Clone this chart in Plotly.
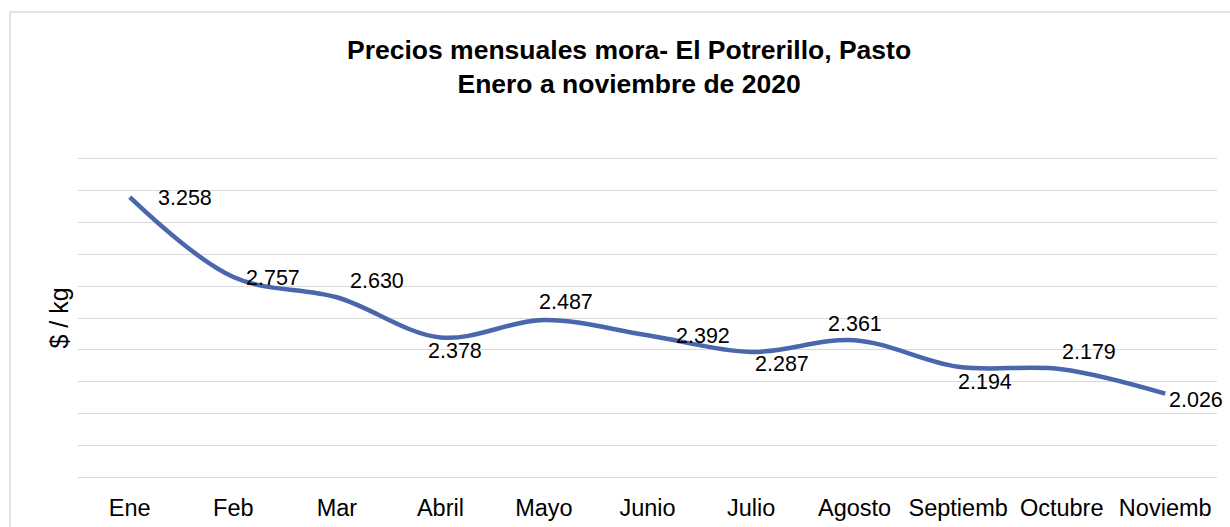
import plotly.graph_objects as go

# monthly prices (thousand $ / kg)
months = ['Ene', 'Feb', 'Mar', 'Abril', 'Mayo', 'Junio', 'Julio', 'Agosto',
          'Septiemb', 'Octubre', 'Noviemb']
prices = [3.258, 2.757, 2.630, 2.378, 2.487, 2.392, 2.287, 2.361, 2.194, 2.179, 2.026]
price_labels = ['3.258', '2.757', '2.630', '2.378', '2.487', '2.392',
                '2.287', '2.361', '2.194', '2.179', '2.026']

# label offsets in px (right, up) - copied from the excel layout
label_dx = [55, 40, 40, 15, 22, 55, 31, 0, 27, 27, 31]
label_dy = [-1, -1, 16, -14, 18, -1, -12, 16, -15, 17, -6]

FONT = 'Liberation Sans, Arial, sans-serif'
LINE_COLOR = '#4A66AC'

fig = go.Figure()
fig.add_trace(go.Scatter(
    x=months, y=prices,
    mode='lines',
    line=dict(color=LINE_COLOR, width=4.5, shape='spline', smoothing=1.0),
    hoverinfo='x+y',
))

for m, p, t, dx, dy in zip(months, prices, price_labels, label_dx, label_dy):
    fig.add_annotation(x=m, y=p, text=t, showarrow=False,
                       xshift=dx, yshift=dy,
                       font=dict(family=FONT, size=21.5, color='black'))

# chart area border (cut off at right/bottom like the source)
fig.add_shape(type='rect', xref='paper', yref='paper',
              x0=-0.0597, x1=1.1, y0=-0.4, y1=1.45,
              line=dict(color='#D9D9D9', width=1.5), layer='below')

fig.update_layout(
    width=1230, height=527,
    margin=dict(l=78, r=13, t=157, b=48),
    paper_bgcolor='white', plot_bgcolor='white',
    showlegend=False,
    font=dict(family=FONT, color='black'),
    title=dict(
        text='<b>Precios mensuales mora- El Potrerillo, Pasto<br>Enero a noviembre de 2020</b>',
        x=0.4838, xref='paper', xanchor='center',
        y=0.888, yref='container', yanchor='top',
        font=dict(family=FONT, size=26.5, color='black'),
    ),
    xaxis=dict(
        type='category', range=[-0.5, 10.5], automargin=False,
        showgrid=False, zeroline=False, showline=False,
        ticks='outside', ticklen=8, tickcolor='rgba(0,0,0,0)',
        tickfont=dict(family=FONT, size=23.5, color='black'),
    ),
    yaxis=dict(
        range=[1.49, 3.51], tick0=1.5, dtick=0.2, automargin=False,
        showticklabels=False, ticks='',
        showgrid=True, gridcolor='#D9D9D9', gridwidth=1.3,
        zeroline=False, showline=False,
        title=dict(text='$ / kg', standoff=1,
                   font=dict(family=FONT, size=25, color='black')),
    ),
)

# drop the default page margin so the figure sits at the window's top-left corner
fig.write_html('out.html', config={'displayModeBar': False},
               post_script="document.body.style.margin='0';")
